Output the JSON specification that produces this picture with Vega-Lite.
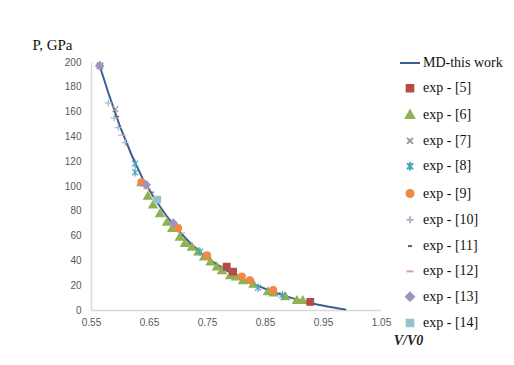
{
  "$schema": "https://vega.github.io/schema/vega-lite/v6.json",
  "autosize": "none",
  "width": 290,
  "height": 248,
  "padding": {"left": 91, "top": 62, "right": 133, "bottom": 55},
  "background": "white",
  "config": {
    "view": {"stroke": null},
    "legend": {
      "labelFont": "Times New Roman", "labelFontSize": 14, "labelColor": "#111111",
      "symbolSize": 400, "symbolStrokeWidth": 2, "rowPadding": 7.3, "labelOffset": 2, "padding": 0
    }
  },
  "datasets": {
    "curve": [
      {"series": "MD-this work", "v": 0.565, "p": 197},
      {"series": "MD-this work", "v": 0.58, "p": 175},
      {"series": "MD-this work", "v": 0.60, "p": 148},
      {"series": "MD-this work", "v": 0.62, "p": 125},
      {"series": "MD-this work", "v": 0.64, "p": 105},
      {"series": "MD-this work", "v": 0.66, "p": 89.5},
      {"series": "MD-this work", "v": 0.68, "p": 76},
      {"series": "MD-this work", "v": 0.70, "p": 64.5},
      {"series": "MD-this work", "v": 0.72, "p": 54.5},
      {"series": "MD-this work", "v": 0.74, "p": 46},
      {"series": "MD-this work", "v": 0.76, "p": 39},
      {"series": "MD-this work", "v": 0.78, "p": 33},
      {"series": "MD-this work", "v": 0.80, "p": 27.5},
      {"series": "MD-this work", "v": 0.82, "p": 23},
      {"series": "MD-this work", "v": 0.84, "p": 19},
      {"series": "MD-this work", "v": 0.86, "p": 15.3},
      {"series": "MD-this work", "v": 0.88, "p": 12},
      {"series": "MD-this work", "v": 0.90, "p": 9.2},
      {"series": "MD-this work", "v": 0.92, "p": 6.7},
      {"series": "MD-this work", "v": 0.94, "p": 4.5},
      {"series": "MD-this work", "v": 0.96, "p": 2.6},
      {"series": "MD-this work", "v": 0.98, "p": 1.0},
      {"series": "MD-this work", "v": 0.99, "p": 0.3}
    ],
    "points": [
      {"series": "exp - [10]", "v": 0.58, "p": 167},
      {"series": "exp - [10]", "v": 0.59, "p": 155},
      {"series": "exp - [10]", "v": 0.597, "p": 147},
      {"series": "exp - [10]", "v": 0.609, "p": 135},
      {"series": "exp - [10]", "v": 0.642, "p": 100},
      {"series": "exp - [11]", "v": 0.595, "p": 156},
      {"series": "exp - [11]", "v": 0.655, "p": 95},
      {"series": "exp - [11]", "v": 0.72, "p": 53},
      {"series": "exp - [12]", "v": 0.603, "p": 141},
      {"series": "exp - [12]", "v": 0.647, "p": 98},
      {"series": "exp - [12]", "v": 0.706, "p": 62},
      {"series": "exp - [6]", "v": 0.637, "p": 103},
      {"series": "exp - [6]", "v": 0.648, "p": 92},
      {"series": "exp - [6]", "v": 0.657, "p": 85},
      {"series": "exp - [6]", "v": 0.669, "p": 78},
      {"series": "exp - [6]", "v": 0.681, "p": 71},
      {"series": "exp - [6]", "v": 0.69, "p": 66},
      {"series": "exp - [6]", "v": 0.703, "p": 59},
      {"series": "exp - [6]", "v": 0.712, "p": 54},
      {"series": "exp - [6]", "v": 0.724, "p": 51},
      {"series": "exp - [6]", "v": 0.735, "p": 47},
      {"series": "exp - [6]", "v": 0.745, "p": 43},
      {"series": "exp - [6]", "v": 0.756, "p": 39},
      {"series": "exp - [6]", "v": 0.767, "p": 35},
      {"series": "exp - [6]", "v": 0.776, "p": 32},
      {"series": "exp - [6]", "v": 0.79, "p": 28},
      {"series": "exp - [6]", "v": 0.80, "p": 27},
      {"series": "exp - [6]", "v": 0.812, "p": 24},
      {"series": "exp - [6]", "v": 0.83, "p": 21},
      {"series": "exp - [6]", "v": 0.855, "p": 15},
      {"series": "exp - [6]", "v": 0.865, "p": 14},
      {"series": "exp - [6]", "v": 0.885, "p": 11},
      {"series": "exp - [6]", "v": 0.905, "p": 8},
      {"series": "exp - [6]", "v": 0.915, "p": 8},
      {"series": "exp - [5]", "v": 0.784, "p": 35},
      {"series": "exp - [5]", "v": 0.795, "p": 31},
      {"series": "exp - [5]", "v": 0.928, "p": 6.5},
      {"series": "exp - [7]", "v": 0.566, "p": 197},
      {"series": "exp - [7]", "v": 0.592, "p": 162},
      {"series": "exp - [8]", "v": 0.565, "p": 197},
      {"series": "exp - [8]", "v": 0.626, "p": 118},
      {"series": "exp - [8]", "v": 0.626, "p": 111},
      {"series": "exp - [8]", "v": 0.738, "p": 47},
      {"series": "exp - [8]", "v": 0.838, "p": 18},
      {"series": "exp - [8]", "v": 0.88, "p": 12},
      {"series": "exp - [9]", "v": 0.637, "p": 103},
      {"series": "exp - [9]", "v": 0.70, "p": 66},
      {"series": "exp - [9]", "v": 0.75, "p": 44},
      {"series": "exp - [9]", "v": 0.81, "p": 27},
      {"series": "exp - [9]", "v": 0.824, "p": 24},
      {"series": "exp - [9]", "v": 0.864, "p": 16},
      {"series": "exp - [13]", "v": 0.565, "p": 197},
      {"series": "exp - [13]", "v": 0.645, "p": 101},
      {"series": "exp - [13]", "v": 0.692, "p": 70},
      {"series": "exp - [14]", "v": 0.664, "p": 89}
    ]
  },
  "layer": [
    {
      "data": {"name": "curve"},
      "mark": {"type": "line", "strokeWidth": 2},
      "encoding": {
        "x": {"field": "v", "type": "quantitative"},
        "y": {"field": "p", "type": "quantitative"},
        "color": {"field": "series", "type": "nominal"}
      }
    },
    {
      "data": {"name": "points"},
      "mark": {"type": "point", "filled": true, "size": 400, "strokeWidth": 1.2, "opacity": 1},
      "encoding": {
        "x": {"field": "v", "type": "quantitative"},
        "y": {"field": "p", "type": "quantitative"},
        "color": {"field": "series", "type": "nominal"},
        "stroke": {
          "field": "series", "type": "nominal",
          "scale": {
            "domain": ["MD-this work", "exp - [5]", "exp - [6]", "exp - [7]", "exp - [8]", "exp - [9]", "exp - [10]", "exp - [11]", "exp - [12]", "exp - [13]", "exp - [14]"],
            "range": ["#3A5F8F", "#B84A45", "#8FB253", "#9A9A9A", "#4BA3C0", "#EE8A45", "#A9B8CC", "#6E5A5A", "#D9A0A0", "#A193BE", "#95C3CC"]
          }
        },
        "shape": {
          "field": "series", "type": "nominal",
          "scale": {
            "domain": ["MD-this work", "exp - [5]", "exp - [6]", "exp - [7]", "exp - [8]", "exp - [9]", "exp - [10]", "exp - [11]", "exp - [12]", "exp - [13]", "exp - [14]"],
            "range": [
              "M-1,0L1,0",
              "M-0.33,-0.33H0.33V0.33H-0.33Z",
              "M0,-0.4L0.42,0.33L-0.42,0.33Z",
              "M-0.3,-0.3L0.3,0.3M-0.3,0.3L0.3,-0.3",
              "M-0.3,-0.3L0.3,0.3M-0.3,0.3L0.3,-0.3M0,-0.42L0,0.42",
              "M-0.35,0A0.35,0.35,0,1,0,0.35,0A0.35,0.35,0,1,0,-0.35,0Z",
              "M-0.35,0L0.35,0M0,-0.35L0,0.35",
              "M-0.2,0L0.2,0",
              "M-0.35,0L0.35,0",
              "M0,-0.4L0.4,0L0,0.4L-0.4,0Z",
              "M-0.33,-0.33H0.33V0.33H-0.33Z"
            ]
          }
        }
      }
    }
  ],
  "resolve": {"scale": {"color": "shared"}},
  "encoding": {
    "x": {
      "field": "v", "type": "quantitative",
      "scale": {"domain": [0.55, 1.05], "nice": false, "zero": false},
      "axis": {
        "title": "V/V0", "values": [0.55, 0.65, 0.75, 0.85, 0.95, 1.05], "format": ".2f",
        "grid": false, "ticks": false, "domainColor": "#D9D9D9", "domainWidth": 1.5,
        "labelFlush": false, "labelBound": false, "labelOverlap": false,
        "labelFont": "Liberation Sans", "labelFontSize": 10, "labelColor": "#595959", "labelPadding": 7,
        "titleFont": "Times New Roman", "titleFontSize": 14, "titleFontStyle": "italic", "titleFontWeight": "bold",
        "titleColor": "#222222", "titleX": 317, "titleY": 30, "titleAlign": "center", "titleBaseline": "middle"
      }
    },
    "y": {
      "field": "p", "type": "quantitative",
      "scale": {"domain": [0, 200], "nice": false},
      "axis": {
        "title": "P, GPa", "values": [0, 20, 40, 60, 80, 100, 120, 140, 160, 180, 200],
        "grid": false, "ticks": false, "domainColor": "#D9D9D9", "domainWidth": 1.5,
        "labelFlush": false, "labelOverlap": false,
        "labelFont": "Liberation Sans", "labelFontSize": 10, "labelColor": "#595959", "labelPadding": 10,
        "titleFont": "Times New Roman", "titleFontSize": 15, "titleFontWeight": "normal", "titleColor": "#111111",
        "titleAngle": 0, "titleX": -59, "titleY": -18, "titleAlign": "left", "titleBaseline": "middle"
      }
    },
    "color": {
      "field": "series", "type": "nominal",
      "scale": {
        "domain": ["MD-this work", "exp - [5]", "exp - [6]", "exp - [7]", "exp - [8]", "exp - [9]", "exp - [10]", "exp - [11]", "exp - [12]", "exp - [13]", "exp - [14]"],
        "range": ["#3A5F8F", "#B84A45", "#8FB253", "#9A9A9A", "#4BA3C0", "#EE8A45", "#A9B8CC", "#6E5A5A", "#D9A0A0", "#A193BE", "#95C3CC"]
      },
      "legend": {
        "title": null, "orient": "none", "legendX": 308, "legendY": -10,
        "labelFont": "Times New Roman"
      }
    }
  }
}
